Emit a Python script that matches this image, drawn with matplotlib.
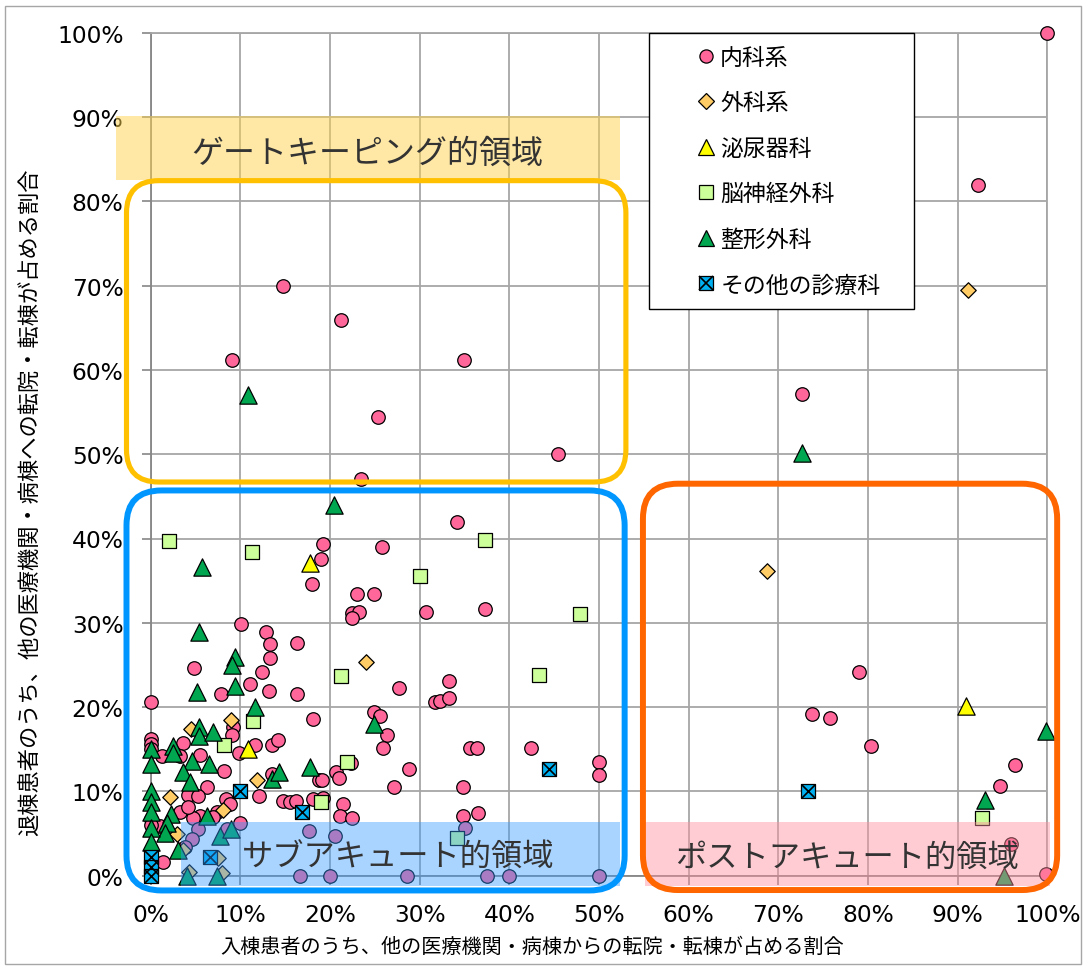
import matplotlib
matplotlib.use("Agg")
import matplotlib.pyplot as plt
from matplotlib.patches import Rectangle, FancyBboxPatch
from matplotlib.lines import Line2D
from matplotlib.ticker import PercentFormatter, MultipleLocator

plt.rcParams['font.family'] = ['Noto Sans CJK JP', 'DejaVu Sans']

# ---------------- data (percent) ----------------
naika_x = [100, 92.3, 14.8, 21.2, 9.1, 34.9, 25.4, 45.4, 23.5, 72.6,
           79.0, 73.8, 75.8, 80.3, 96.4, 94.7, 96.0, 99.9,
           34.2, 19.2, 19.0, 25.8, 18.0, 23.0, 24.9, 22.5, 23.2, 22.5, 30.7, 37.3,
           10.1, 12.9, 13.3, 16.3, 13.3, 4.8, 12.45, 11.1, 7.8, 13.2, 16.3, 0, 27.7, 33.3, 31.7, 32.3, 33.3,
           18.1, 9.2, 9.1, 24.9, 25.6, 26.3, 25.9, 35.6, 36.4, 42.4, 50.0, 50.0, 28.8, 27.1, 34.8,
           0, 0, 0, 3.6, 3.3, 1.3, 5.5, 8.2, 9.8, 11.6, 13.5, 14.2, 13.5, 22.3,
           20.7, 21.0, 18.8, 19.1, 6.25, 4.2, 5.3, 12.1, 14.8, 15.5, 16.2, 18.1, 19.2, 21.4, 21.1, 22.4, 34.8, 36.5,
           8.4, 8.8, 7.4, 7.0, 5.5, 4.75, 3.3, 4.2, 0, 1.0, 1.4, 10.0, 0, 0,
           5.3, 4.6, 3.8, 8.5, 17.7, 20.6, 35.1,
           16.6, 20.0, 28.6, 37.5, 40.0, 50.0]
naika_y = [100, 81.9, 69.9, 65.9, 61.2, 61.2, 54.4, 50.0, 47.0, 57.1,
           24.2, 19.2, 18.7, 15.4, 13.1, 10.6, 3.8, 0.2,
           42.0, 39.3, 37.6, 39.0, 34.6, 33.4, 33.4, 31.2, 31.3, 30.6, 31.3, 31.6,
           29.8, 28.9, 27.5, 27.6, 25.8, 24.6, 24.2, 22.7, 21.5, 21.9, 21.5, 20.6, 22.3, 23.1, 20.6, 20.7, 21.1,
           18.6, 17.6, 16.7, 19.4, 18.9, 16.7, 15.2, 15.1, 15.2, 15.2, 13.5, 11.9, 12.7, 10.5, 10.5,
           16.2, 15.6, 15.0, 15.8, 14.2, 14.2, 14.3, 12.4, 14.6, 15.5, 15.5, 16.1, 12.1, 13.4,
           12.3, 11.6, 11.3, 11.3, 10.5, 9.6, 9.5, 9.5, 8.9, 8.8, 8.9, 9.1, 9.2, 8.5, 7.1, 6.8, 7.1, 7.4,
           9.1, 8.5, 7.5, 7.0, 7.1, 6.9, 7.5, 8.1, 6.7, 5.9, 1.6, 6.3, 6.0, 3.0,
           5.5, 4.4, 3.4, 5.5, 5.3, 4.7, 5.6,
           0, 0, 0, 0, 0, 0]

geka_x = [91.1, 68.7, 24.0, 8.95, 4.5, 11.9, 2.1, 8.1, 2.9, 3.6, 7.5, 4.3, 8.0]
geka_y = [69.5, 36.1, 25.4, 18.5, 17.4, 11.3, 9.3, 7.8, 5.0, 3.0, 2.1, 0.4, 0.3]

hinyo_x = [17.8, 10.9, 90.9]
hinyo_y = [37.1, 15.0, 20.1]

noshinkei_x = [2.0, 11.3, 37.3, 30.0, 47.9, 21.2, 43.3, 11.4, 8.2, 21.9, 19.0, 92.7, 34.2]
noshinkei_y = [39.7, 38.4, 39.8, 35.6, 31.0, 23.7, 23.8, 18.3, 15.5, 13.5, 8.7, 6.9, 4.5]

seikei_x = [10.9, 72.6, 20.4, 5.7, 5.35, 9.4, 9.1, 5.2, 9.4, 11.6, 5.4, 5.4, 7.0,
            0, 0, 2.5, 2.5, 4.6, 3.6, 6.5, 17.8, 4.35, 13.5, 14.3, 0, 6.25, 2.3, 1.8, 1.6,
            0, 0, 0, 0, 3.0, 7.7, 9.0, 4.0, 7.4, 24.9, 99.9, 93.1, 95.2]
seikei_y = [57.0, 50.1, 44.0, 36.6, 28.9, 25.9, 25.0, 21.75, 22.5, 20.0, 17.6, 16.6, 17.0,
            15.0, 13.2, 15.4, 14.6, 13.6, 12.3, 13.2, 12.9, 11.1, 11.5, 12.3, 10.1, 7.1, 7.3, 6.3, 5.1,
            8.7, 7.5, 5.7, 4.0, 3.1, 4.7, 5.5, 0, 0, 18.0, 17.2, 9.0, 0]

sonota_x = [73.3, 44.4, 10.0, 16.9, 6.6, 0, 0, 0]
sonota_y = [10.0, 12.6, 10.0, 7.6, 2.2, 2.2, 1.0, 0]

labels = ['内科系', '外科系', '泌尿器科', '脳神経外科', '整形外科', 'その他の診療科']
xlabel = '入棟患者のうち、他の医療機関・病棟からの転院・転棟が占める割合'
ylabel = '退棟患者のうち、他の医療機関・病棟への転院・転棟が占める割合'
zone_gate = 'ゲートキーピング的領域'
zone_sub = 'サブアキュート的領域'
zone_post = 'ポストアキュート的領域'

# ---------------- figure ----------------
W, H = 1086, 970
fig = plt.figure(figsize=(W / 100, H / 100), dpi=100)
ax = fig.add_axes([150.7 / W, 1 - 876.7 / H, 896.6 / W, 843 / H])
ax.set_xlim(0, 100)
ax.set_ylim(0, 100)

# outer frame
fig.patches.append(Rectangle((5 / W, 1 - 965 / H), 1076 / W, 958 / H, transform=fig.transFigure,
                             fill=False, edgecolor='#a6a6a6', lw=1.0))

ax.xaxis.set_major_locator(MultipleLocator(10))
ax.yaxis.set_major_locator(MultipleLocator(10))
ax.xaxis.set_major_formatter(PercentFormatter(100, decimals=0))
ax.yaxis.set_major_formatter(PercentFormatter(100, decimals=0))
ax.grid(True, color='#a6a6a6', lw=1.3, zorder=0)
ax.set_axisbelow(True)
for s in ['top', 'right']:
    ax.spines[s].set_color('#a6a6a6')
    ax.spines[s].set_linewidth(1.3)
for s in ['left', 'bottom']:
    ax.spines[s].set_color('#868686')
    ax.spines[s].set_linewidth(1.3)
ax.tick_params(axis='both', direction='out', length=6.5, width=1.2, color='#868686', pad=13,
               labelsize=16.8, labelcolor='black')
for lab in ax.get_xticklabels() + ax.get_yticklabels():
    lab.set_fontfamily('DejaVu Sans')

mk = dict(edgecolors='black', linewidths=0.9, clip_on=False)
ax.scatter(naika_x, naika_y, s=95, marker='o', facecolors='#ff6699', zorder=3, **mk)
ax.scatter(geka_x, geka_y, s=62, marker='D', facecolors='#ffcc66', zorder=4, **mk)
ax.scatter(hinyo_x, hinyo_y, s=155, marker='^', facecolors='#ffff00', zorder=5, **mk)
ax.scatter(noshinkei_x, noshinkei_y, s=95, marker='s', facecolors='#ccff99', zorder=6, **mk)
ax.scatter(seikei_x, seikei_y, s=155, marker='^', facecolors='#00a650', zorder=7, **mk)
ax.scatter(sonota_x, sonota_y, s=100, marker='s', facecolors='#00b0f0', zorder=8, **mk)
ax.scatter(sonota_x, sonota_y, s=100, marker='x', c='black', linewidths=1.2, zorder=8.5, clip_on=False)

# ---------------- zone overlays ----------------
asp = (896.6 / 100) / (843 / 100)
ax.add_patch(Rectangle((-3.9, 82.5), 56.2, 7.6, facecolor='#ffd34d', alpha=0.5, lw=0,
                       zorder=9, clip_on=False))
ax.text(24.2, 85.7, zone_gate, ha='center', va='center', fontsize=23, color='#333333', zorder=10)

ax.add_patch(FancyBboxPatch((-2.7, 46.7), 55.7, 35.75, boxstyle='round,pad=0,rounding_size=3.6',
                            mutation_aspect=asp, facecolor='none', edgecolor='#ffc000', lw=3.7,
                            zorder=11, clip_on=False))

ax.add_patch(Rectangle((3.4, -1.2), 48.95, 7.6, facecolor='#3399ff', alpha=0.42, lw=0,
                       zorder=9, clip_on=False))
ax.text(27.6, 2.2, zone_sub, ha='center', va='center', fontsize=22.5, color='#333333', zorder=10)

ax.add_patch(Rectangle((55.1, -1.2), 45.2, 7.6, facecolor='#ff8fa0', alpha=0.45, lw=0,
                       zorder=9, clip_on=False))
ax.text(77.7, 2.2, zone_post, ha='center', va='center', fontsize=22.5, color='#333333', zorder=10)

ax.add_patch(FancyBboxPatch((-2.7, -1.75), 55.56, 47.45, boxstyle='round,pad=0,rounding_size=3.9',
                            mutation_aspect=asp, facecolor='none', edgecolor='#0096ff', lw=4.3,
                            zorder=11, clip_on=False))
ax.add_patch(FancyBboxPatch((54.9, -1.7), 46.2, 48.2, boxstyle='round,pad=0,rounding_size=3.9',
                            mutation_aspect=asp, facecolor='none', edgecolor='#ff6600', lw=4.3,
                            zorder=11, clip_on=False))

# ---------------- axis labels ----------------
ax.set_xlabel(xlabel, fontsize=14.5)
ax.xaxis.set_label_coords((532 - 150.7) / 896.6, (876.7 - 947) / 843)
ax.xaxis.label.set_va('center')
ax.set_ylabel(ylabel, fontsize=16)
ax.yaxis.set_label_coords((30 - 150.7) / 896.6, (876.7 - 502) / 843)
ax.yaxis.label.set_va('center')

# ---------------- legend ----------------
fig.patches.append(Rectangle((649 / W, 1 - 310 / H), 265 / W, 276 / H, transform=fig.transFigure,
                             facecolor='white', edgecolor='black', lw=1.0, zorder=20))
h = [
    Line2D([], [], ls='none', marker='o', ms=9.5, mfc='#ff6699', mec='black', mew=0.9),
    Line2D([], [], ls='none', marker='D', ms=7.8, mfc='#ffcc66', mec='black', mew=0.9),
    Line2D([], [], ls='none', marker='^', ms=11, mfc='#ffff00', mec='black', mew=0.9),
    Line2D([], [], ls='none', marker='s', ms=9.5, mfc='#ccff99', mec='black', mew=0.9),
    Line2D([], [], ls='none', marker='^', ms=11, mfc='#00a650', mec='black', mew=0.9),
    (Line2D([], [], ls='none', marker='s', ms=10, mfc='#00b0f0', mec='black', mew=0.9),
     Line2D([], [], ls='none', marker='x', ms=10, mec='black', mew=1.2)),
]
leg = fig.legend(h, labels, loc='upper left', bbox_to_anchor=(694.5 / W, 1 - 47 / H),
                 bbox_transform=fig.transFigure, frameon=False, fontsize=16.5,
                 borderpad=0, borderaxespad=0, handlelength=1.0, handletextpad=0.12,
                 labelspacing=0.98)
leg.set_zorder(21)

fig.savefig('out.png', dpi=100)
